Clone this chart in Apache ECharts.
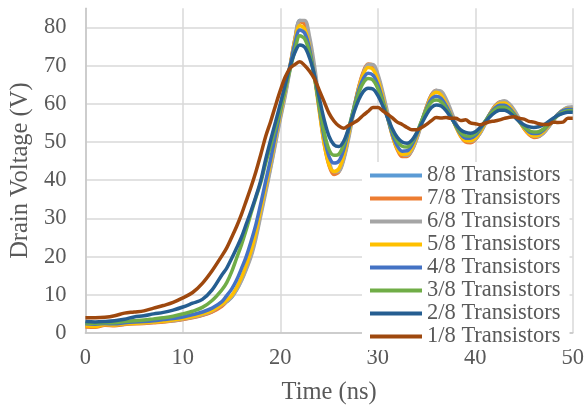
<!DOCTYPE html>
<html>
<head>
<meta charset="utf-8">
<title>Drain Voltage vs Time</title>
<script src="https://cdn.jsdelivr.net/npm/echarts@6/dist/echarts.min.js"></script>
<style>
  html, body { margin: 0; padding: 0; background: #ffffff; }
  #chart { width: 587px; height: 411px; }
</style>
</head>
<body>
<div id="chart"></div>
<script>
// Sample times (ns): 1 ns steps through the slow start, 0.5 ns steps afterwards
const TIME = [
  0, 1, 2, 3, 4, 5, 6, 7, 8, 9, 10, 11, 12, 13, 14,
  14.5, 15, 15.5, 16, 16.5, 17, 17.5, 18, 18.5, 19, 19.5, 20, 20.5, 21, 21.5,
  22, 22.5, 23, 23.5, 24, 24.5, 25, 25.5, 26, 26.5,
  27, 27.5, 28, 28.5, 29, 29.5, 30, 30.5, 31, 31.5,
  32, 32.5, 33, 33.5, 34, 34.5, 35, 35.5, 36, 36.5,
  37, 37.5, 38, 38.5, 39, 39.5, 40, 40.5, 41, 41.5,
  42, 42.5, 43, 43.5, 44, 44.5, 45, 45.5, 46, 46.5,
  47, 47.5, 48, 48.5, 49, 49.5, 50
];

// Drain voltage (V) per transistor count
const V_8_8 = [
  2.0, 1.8, 2.1, 2.0, 2.3, 2.5, 2.6, 2.8, 3.0, 3.2, 3.6, 4.1, 4.7, 5.6, 7.2,
  8.2, 9.3, 11.3, 13.8, 17.0, 20.5, 25.5, 31.5, 37.5, 43.5, 50.0, 56.5, 62.5, 69.5, 77.0,
  81.8, 81.2, 76.5, 68.5, 59.0, 50.0, 44.2, 41.8, 42.3, 45.8,
  51.5, 58.0, 63.8, 68.0, 70.2, 69.8, 67.2, 62.5, 57.0, 52.0,
  48.3, 46.6, 46.5, 48.0, 51.2, 55.2, 59.2, 62.3, 63.5, 63.0,
  60.8, 57.8, 54.5, 51.8, 50.3, 50.0, 50.7, 52.4, 54.8, 57.3,
  59.3, 60.4, 60.6, 59.7, 58.0, 55.8, 53.7, 52.2, 51.4, 51.5,
  52.4, 53.9, 55.7, 57.3, 58.4, 58.9, 58.9
];
const V_7_8 = [
  1.6, 1.5, 2.0, 1.9, 2.2, 2.4, 2.5, 2.7, 2.9, 3.2, 3.5, 4.0, 4.6, 5.5, 7.0,
  8.3, 9.6, 11.6, 14.2, 17.4, 21.0, 26.0, 32.0, 38.0, 44.0, 50.5, 57.0, 63.0, 70.0, 77.0,
  81.5, 80.8, 76.0, 68.0, 58.5, 49.5, 43.8, 41.5, 42.2, 45.8,
  51.6, 58.2, 64.0, 68.3, 70.4, 70.0, 67.2, 62.3, 56.8, 51.6,
  48.0, 46.2, 46.2, 47.8, 51.0, 55.2, 59.2, 62.3, 63.5, 62.8,
  60.5, 57.5, 54.2, 51.5, 50.0, 49.8, 50.6, 52.4, 54.9, 57.4,
  59.4, 60.5, 60.6, 59.6, 57.8, 55.6, 53.5, 52.0, 51.2, 51.4,
  52.4, 54.0, 55.8, 57.3, 58.3, 58.8, 58.7
];
const V_6_8 = [
  2.2, 2.0, 2.3, 2.2, 2.5, 2.6, 2.7, 2.9, 3.1, 3.3, 3.7, 4.2, 4.8, 5.8, 7.4,
  8.3, 9.4, 11.2, 13.6, 16.6, 20.0, 24.8, 30.8, 36.8, 43.0, 49.5, 56.0, 62.0, 69.0, 76.5,
  81.8, 81.8, 77.5, 70.0, 60.5, 51.2, 45.0, 42.2, 42.3, 45.3,
  50.8, 57.3, 63.4, 67.8, 70.3, 70.3, 67.8, 63.2, 57.8, 52.6,
  48.8, 46.8, 46.5, 47.8, 50.8, 54.8, 58.8, 62.0, 63.5, 63.3,
  61.3, 58.3, 55.0, 52.2, 50.6, 50.2, 50.7, 52.3, 54.6, 57.1,
  59.2, 60.4, 60.8, 60.0, 58.4, 56.2, 54.0, 52.4, 51.5, 51.5,
  52.3, 53.8, 55.6, 57.2, 58.4, 59.1, 59.2
];
const V_5_8 = [
  1.9, 1.7, 2.2, 2.1, 2.4, 2.5, 2.7, 2.9, 3.1, 3.4, 3.8, 4.3, 5.0, 5.9, 7.5,
  8.6, 9.8, 11.8, 14.5, 17.8, 21.5, 26.5, 32.5, 38.5, 44.5, 51.0, 57.3, 63.5, 70.0, 76.5,
  80.5, 79.5, 74.8, 67.0, 58.0, 49.5, 44.0, 42.3, 43.0, 46.5,
  52.0, 58.2, 63.6, 67.6, 69.5, 69.0, 66.3, 61.8, 56.5, 51.6,
  48.3, 46.8, 46.9, 48.4, 51.5, 55.3, 59.0, 61.9, 63.0, 62.3,
  60.0, 57.1, 54.0, 51.6, 50.4, 50.3, 51.0, 52.7, 55.0, 57.3,
  59.1, 60.1, 60.2, 59.3, 57.6, 55.5, 53.6, 52.2, 51.6, 51.8,
  52.7, 54.2, 55.9, 57.3, 58.3, 58.7, 58.6
];
const V_4_8 = [
  2.4, 2.3, 2.5, 2.4, 2.7, 2.9, 3.0, 3.2, 3.5, 3.8, 4.2, 4.8, 5.5, 6.5, 8.2,
  9.8, 11.5, 13.8, 16.8, 20.0, 24.0, 28.5, 34.0, 39.8, 45.5, 51.8, 58.0, 64.0, 70.0, 75.8,
  79.3, 78.5, 74.3, 67.3, 59.0, 51.2, 46.2, 44.5, 45.0, 48.0,
  53.0, 58.5, 63.2, 66.5, 68.0, 67.5, 65.0, 61.0, 56.3, 52.0,
  49.0, 47.6, 47.7, 49.2, 52.0, 55.5, 58.8, 61.2, 62.0, 61.4,
  59.5, 56.9, 54.2, 52.1, 51.0, 51.0, 51.7, 53.3, 55.3, 57.3,
  58.8, 59.6, 59.6, 58.8, 57.3, 55.5, 53.9, 52.7, 52.2, 52.3,
  53.1, 54.5, 56.0, 57.3, 58.2, 58.6, 58.5
];
const V_3_8 = [
  2.6, 2.5, 2.7, 2.7, 3.0, 3.2, 3.4, 3.7, 4.0, 4.4, 5.0, 5.7, 6.7, 8.5, 11.3,
  13.2, 16.0, 19.5, 23.0, 27.0, 31.4, 35.5, 39.5, 44.5, 49.0, 53.8, 58.5, 63.8, 69.0, 74.0,
  77.8, 77.0, 73.3, 67.0, 59.5, 52.5, 48.0, 46.5, 46.8, 49.3,
  53.6, 58.3, 62.5, 65.4, 66.6, 66.2, 64.0, 60.5, 56.5, 52.8,
  50.2, 48.9, 48.7, 50.0, 52.5, 55.6, 58.5, 60.5, 61.0, 60.5,
  58.8, 56.6, 54.3, 52.5, 51.6, 51.5, 52.2, 53.6, 55.4, 57.1,
  58.4, 59.1, 59.1, 58.4, 57.0, 55.4, 54.0, 53.0, 52.6, 52.7,
  53.4, 54.6, 55.9, 57.0, 57.8, 58.2, 58.2
];
const V_2_8 = [
  3.0, 2.9, 3.0, 3.2, 3.6, 4.2, 4.5, 5.0, 5.4, 6.0, 6.8, 7.8, 8.8, 11.3, 15.2,
  17.0, 19.5, 22.2, 25.0, 28.5, 32.0, 35.8, 40.0, 45.5, 50.5, 55.2, 60.0, 65.0, 69.8, 73.5,
  75.4, 74.8, 72.0, 67.5, 61.5, 55.8, 51.5, 49.3, 48.8, 50.2,
  53.5, 57.4, 60.8, 63.2, 64.1, 63.9, 62.2, 59.5, 56.4, 53.4,
  51.2, 50.0, 49.7, 50.5, 52.4, 54.8, 57.2, 59.0, 59.7, 59.4,
  58.2, 56.4, 54.6, 53.2, 52.5, 52.3, 52.7, 53.8, 55.2, 56.6,
  57.7, 58.3, 58.3, 57.7, 56.6, 55.4, 54.5, 54.0, 53.8, 54.0,
  54.5, 55.3, 56.2, 57.0, 57.5, 57.8, 57.8
];
const V_1_8 = [
  4.0, 4.0, 4.1, 4.5, 5.2, 5.5, 5.8, 6.5, 7.2, 8.0, 9.2, 10.6, 13.0, 16.3, 20.2,
  22.3, 25.0, 27.8, 31.0, 34.6, 38.3, 42.3, 46.8, 51.5, 55.3, 59.5, 63.5, 67.0, 69.3, 70.3,
  71.0, 70.0, 68.5, 66.5, 63.5, 60.5, 57.5, 55.5, 54.2, 53.6,
  54.3, 55.0, 55.8, 57.0, 58.0, 59.0, 59.0, 58.2, 57.3, 56.3,
  55.2, 54.6, 53.8, 53.2, 53.2, 53.8, 54.6, 55.6, 56.4, 56.3,
  56.4, 56.2, 56.2, 55.6, 55.8, 55.0, 54.8, 54.5, 54.9, 55.3,
  55.5, 55.8, 56.2, 56.5, 56.6, 56.2, 56.0, 55.4, 55.2, 54.8,
  54.6, 54.6, 55.2, 55.1, 55.2, 56.2, 56.2
];

const SERIES_NAMES = [
  '8/8 Transistors', '7/8 Transistors', '6/8 Transistors', '5/8 Transistors',
  '4/8 Transistors', '3/8 Transistors', '2/8 Transistors', '1/8 Transistors'
];
const SERIES_VALUES = [V_8_8, V_7_8, V_6_8, V_5_8, V_4_8, V_3_8, V_2_8, V_1_8];
const SERIES_COLORS = [
  '#5B9BD5', '#ED7D31', '#A5A5A5', '#FFC000',
  '#4472C4', '#70AD47', '#255E91', '#9E480E'
];

const X_TICKS = { min: 0, max: 50, step: 10 };
const Y_TICKS = { min: 0, max: 85, step: 10, lastLabel: 80 };

const FONT = '"Liberation Serif", "Times New Roman", serif';
const TEXT_COLOR = '#595959';
const GRID_COLOR = '#d9d9d9';
const AXIS_COLOR = '#c6c6c6';

// One colour per horizontal split line; the extra line at the top of the range stays hidden
const ySplitColors = [];
for (let v = Y_TICKS.min; v <= Y_TICKS.lastLabel; v += Y_TICKS.step) ySplitColors.push(GRID_COLOR);
ySplitColors.push('rgba(0,0,0,0)');

const chart = echarts.init(document.getElementById('chart'), null, { renderer: 'canvas' });

chart.setOption({
  backgroundColor: '#ffffff',
  animation: false,
  color: SERIES_COLORS,
  grid: { left: 83, right: 12, top: 8.3, bottom: 78, containLabel: false },
  xAxis: {
    type: 'value',
    min: X_TICKS.min,
    max: X_TICKS.max,
    interval: X_TICKS.step,
    name: 'Time (ns)',
    nameLocation: 'middle',
    nameGap: 47,
    nameTextStyle: { fontFamily: FONT, fontSize: 24.5, lineHeight: 25, color: TEXT_COLOR },
    axisLine: { show: true, lineStyle: { color: AXIS_COLOR, width: 1.5 } },
    axisTick: { show: false },
    axisLabel: { margin: 14, fontFamily: FONT, fontSize: 22.5, lineHeight: 22.5, color: TEXT_COLOR },
    splitLine: { show: true, lineStyle: { color: GRID_COLOR, width: 1.5 } }
  },
  yAxis: {
    type: 'value',
    min: Y_TICKS.min,
    max: Y_TICKS.max,
    interval: Y_TICKS.step,
    name: 'Drain Voltage (V)',
    nameLocation: 'middle',
    nameGap: 52,
    nameTextStyle: { fontFamily: FONT, fontSize: 24.5, lineHeight: 25, color: TEXT_COLOR },
    axisLine: { show: true, lineStyle: { color: AXIS_COLOR, width: 1.5 } },
    axisTick: { show: false },
    axisLabel: {
      margin: 19,
      fontFamily: FONT,
      fontSize: 22.5,
      color: TEXT_COLOR,
      formatter: (v) => (v > Y_TICKS.lastLabel ? '' : String(v))
    },
    splitLine: { show: true, lineStyle: { color: ySplitColors, width: 1.5 } }
  },
  legend: {
    orient: 'vertical',
    left: 362,
    top: 162,
    padding: [2, 9, 2, 8],
    backgroundColor: '#ffffff',
    icon: 'rect',
    itemWidth: 52,
    itemHeight: 4,
    itemGap: 0,
    selectedMode: false,
    data: SERIES_NAMES,
    textStyle: { fontFamily: FONT, fontSize: 22.5, lineHeight: 22.9, color: TEXT_COLOR }
  },
  series: SERIES_NAMES.map((name, i) => ({
    name: name,
    type: 'line',
    data: TIME.map((t, k) => [t, SERIES_VALUES[i][k]]),
    showSymbol: false,
    symbol: 'none',
    smooth: 0.35,
    lineStyle: { width: 3.5, color: SERIES_COLORS[i] },
    itemStyle: { color: SERIES_COLORS[i] },
    z: 2 + i
  }))
});
</script>
</body>
</html>
